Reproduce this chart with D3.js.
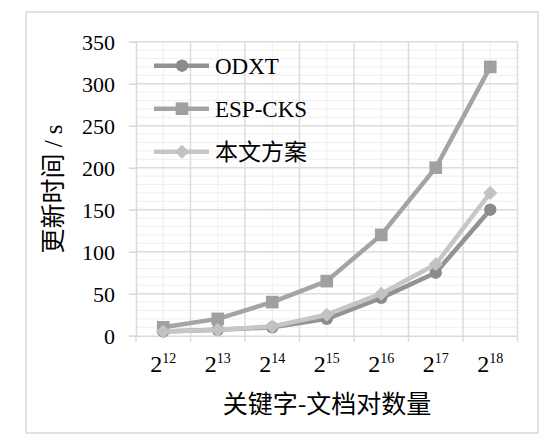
<!DOCTYPE html>
<html>
<head>
<meta charset="utf-8">
<script src="https://cdn.jsdelivr.net/npm/d3@7"></script>
<style>
  body { margin: 0; background: #fff; }
  svg { display: block; }
  text { font-family: "Liberation Serif", "Noto Sans CJK SC", serif; fill: #000; }
</style>
</head>
<body>
<svg id="chart"></svg>
<script>
// data
const exponents = [12, 13, 14, 15, 16, 17, 18];
const odxt = [5, 7, 10, 20, 45, 75, 150];
const espCks = [10, 20, 40, 65, 120, 200, 320];
const ours = [5, 7, 11, 25, 50, 85, 170];
const seriesNames = ["ODXT", "ESP-CKS", "本文方案"];
const yTicks = [0, 50, 100, 150, 200, 250, 300, 350];

const serif = '"Liberation Serif", "Noto Sans CJK SC", serif';

const width = 552, height = 441;
const svg = d3.select("#chart").attr("width", width).attr("height", height);

// outer frame
svg.append("rect")
    .attr("x", 26).attr("y", 12)
    .attr("width", 512).attr("height", 421)
    .attr("fill", "#fff")
    .attr("stroke", "#d9d9d9")
    .attr("stroke-width", 1.5);

const plotL = 136, plotR = 517.5, plotT = 41.7, plotB = 335.7;

const x = d3.scaleBand().domain(exponents).range([plotL, plotR]).paddingInner(0).paddingOuter(0);
const y = d3.scaleLinear().domain([0, 350]).range([plotB, plotT]);
const cx = d => x(d) + x.bandwidth() / 2;

// gridlines: minor first, then major
const grid = svg.append("g");
grid.selectAll(".hminor")
    .data(d3.range(10, 350, 10).filter(v => v % 50 !== 0))
    .enter().append("line")
    .attr("x1", plotL).attr("x2", plotR)
    .attr("y1", d => y(d)).attr("y2", d => y(d))
    .attr("stroke", "#efefef").attr("stroke-width", 1);
grid.selectAll(".vminor")
    .data(exponents)
    .enter().append("line")
    .attr("x1", d => cx(d)).attr("x2", d => cx(d))
    .attr("y1", plotT).attr("y2", plotB)
    .attr("stroke", "#eeeeee").attr("stroke-width", 1);
grid.selectAll(".hmajor")
    .data(yTicks.slice(1))
    .enter().append("line")
    .attr("x1", plotL).attr("x2", plotR)
    .attr("y1", d => y(d)).attr("y2", d => y(d))
    .attr("stroke", "#dcdcdc").attr("stroke-width", 1.5);
const bounds = exponents.map(d => x(d)).concat([plotR]);
grid.selectAll(".vmajor")
    .data(bounds.slice(1))
    .enter().append("line")
    .attr("x1", d => d).attr("x2", d => d)
    .attr("y1", plotT).attr("y2", plotB)
    .attr("stroke", "#dcdcdc").attr("stroke-width", 1.5);

// y axis
const yAxis = svg.append("g")
    .attr("transform", "translate(" + plotL + ",0)")
    .call(d3.axisLeft(y).tickValues(yTicks).tickSize(7).tickPadding(14));
yAxis.attr("font-family", null);
yAxis.select(".domain").attr("stroke", "#d9d9d9").attr("stroke-width", 1.5);
yAxis.selectAll(".tick line").attr("stroke", "#d9d9d9").attr("stroke-width", 1.5);
yAxis.selectAll(".tick text")
    .style("font-family", serif)
    .style("font-size", "22px")
    .attr("dy", "0.34em");

// x axis: boundary ticks and centered labels
const xAxis = svg.append("g")
    .attr("transform", "translate(0," + plotB + ")")
    .call(d3.axisBottom(x).tickSize(0).tickPadding(0));
xAxis.attr("font-family", null);
xAxis.select(".domain").attr("stroke", "#d9d9d9").attr("stroke-width", 1.5);
xAxis.selectAll(".tick text")
    .text("")
    .attr("y", 36)
    .attr("dy", 0)
    .style("font-family", serif)
    .style("font-size", "24px")
    .each(function (d) {
        const t = d3.select(this);
        t.append("tspan").text("2");
        t.append("tspan").attr("dy", -9).style("font-size", "14px").text(d);
    });
svg.append("g").selectAll("line")
    .data(bounds)
    .enter().append("line")
    .attr("x1", d => d).attr("x2", d => d)
    .attr("y1", plotB).attr("y2", plotB + 6)
    .attr("stroke", "#d9d9d9").attr("stroke-width", 1.5);

// series (diamond = square turned 45 degrees)
const series = [
    { name: seriesNames[0], values: odxt, line: "#939393", fill: "#8b8b8b", shape: d3.symbolCircle, size: 120, rot: 0 },
    { name: seriesNames[1], values: espCks, line: "#a4a4a4", fill: "#a0a0a0", shape: d3.symbolSquare, size: 160, rot: 0 },
    { name: seriesNames[2], values: ours, line: "#c6c6c6", fill: "#c2c2c2", shape: d3.symbolSquare, size: 100, rot: 45 }
];

const line = d3.line().x((d, i) => cx(exponents[i])).y(d => y(d));

series.forEach(s => {
    svg.append("path")
        .datum(s.values)
        .attr("d", line)
        .attr("fill", "none")
        .attr("stroke", s.line)
        .attr("stroke-width", 4.5)
        .attr("stroke-linejoin", "round");
    svg.append("g").selectAll("path")
        .data(s.values)
        .enter().append("path")
        .attr("transform", (d, i) => "translate(" + cx(exponents[i]) + "," + y(d) + ") rotate(" + s.rot + ")")
        .attr("d", d3.symbol().type(s.shape).size(s.size))
        .attr("fill", s.fill);
});

// legend
const legend = svg.append("g");
const legendRows = legend.selectAll("g")
    .data(series)
    .enter().append("g")
    .attr("transform", (d, i) => "translate(0," + (65.7 + i * 43) + ")");
legendRows.append("line")
    .attr("x1", 154).attr("x2", 209)
    .attr("stroke", d => d.line).attr("stroke-width", 4.5);
legendRows.append("path")
    .attr("transform", d => "translate(182,0) rotate(" + d.rot + ")")
    .attr("d", d => d3.symbol().type(d.shape).size(d.size)())
    .attr("fill", d => d.fill);
legendRows.append("text")
    .attr("x", 215)
    .attr("dy", "0.35em")
    .style("font-family", serif)
    .style("font-size", "23px")
    .text(d => d.name);

// axis titles
svg.append("text")
    .attr("transform", "translate(62,189) rotate(-90)")
    .style("text-anchor", "middle")
    .style("font-family", serif)
    .style("font-size", "25px")
    .text("更新时间 / s");
svg.append("text")
    .attr("x", 327)
    .attr("y", 413)
    .style("text-anchor", "middle")
    .style("font-size", "25px")
    .style("font-family", "Noto Sans CJK SC")
    .text("关键字-文档对数量");
</script>
</body>
</html>
